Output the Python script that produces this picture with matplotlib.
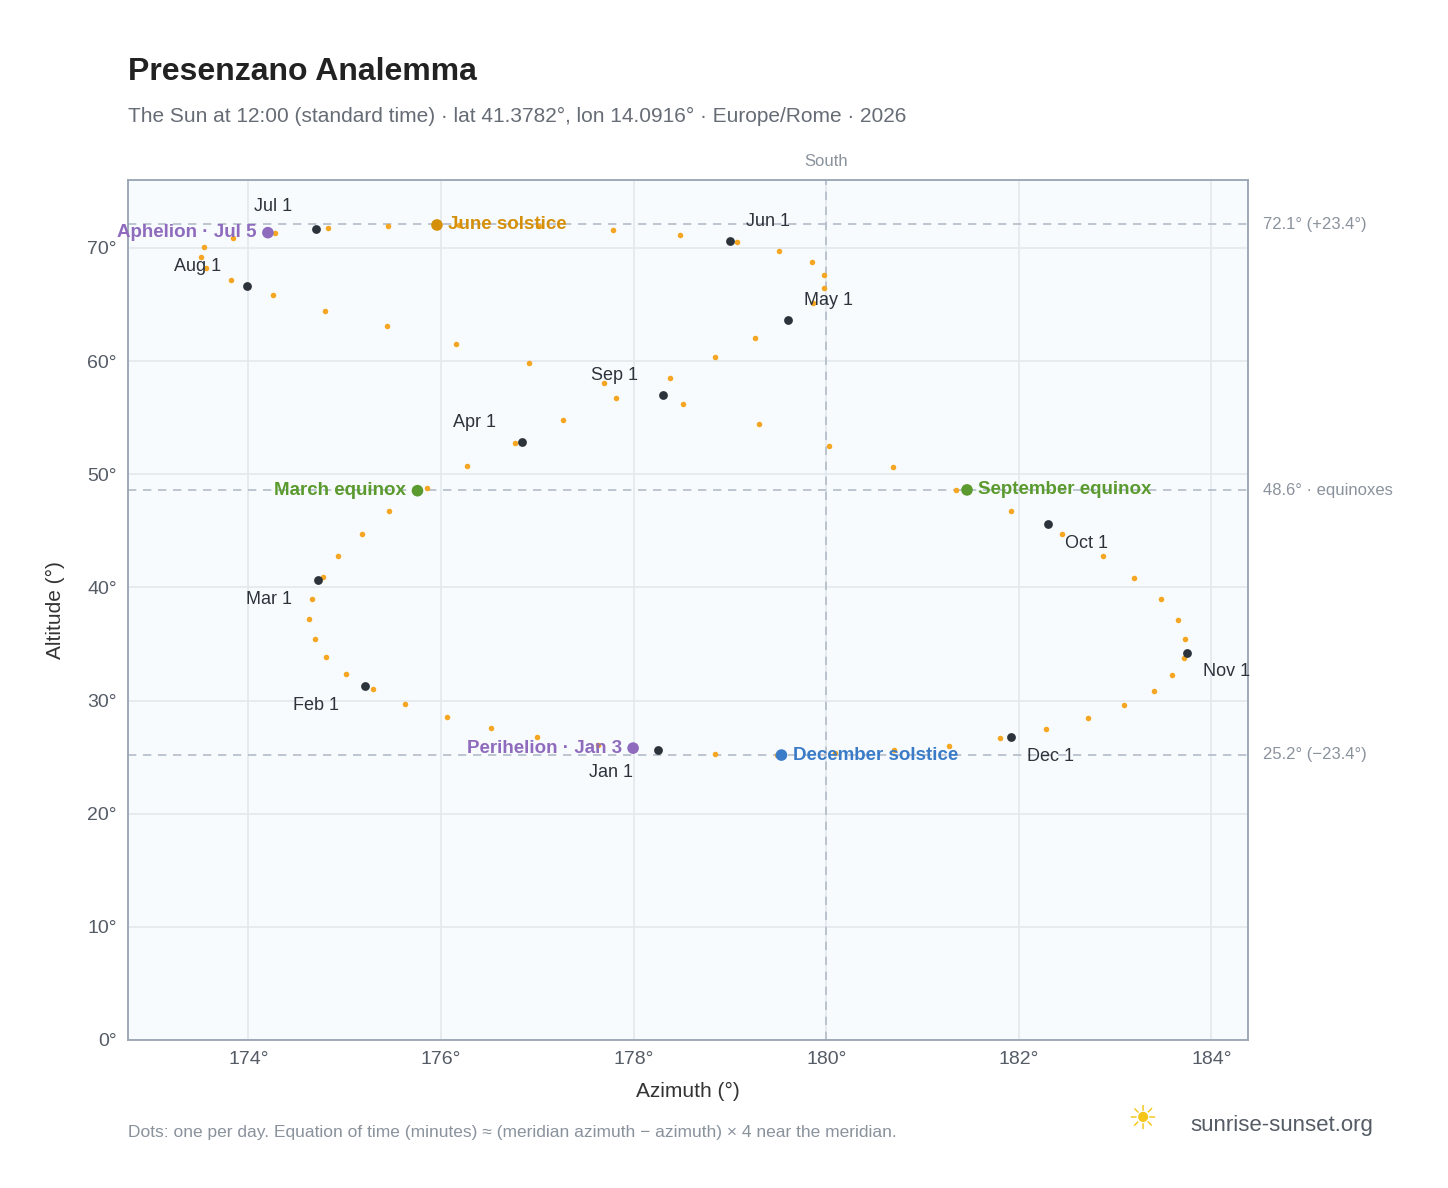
import numpy as np
import matplotlib
matplotlib.use("Agg")
import matplotlib.pyplot as plt
plt.rcParams['font.family'] = ['Liberation Sans', 'DejaVu Sans']

LAT = 41.3782
LON = 14.0916
# every 5 days from Jan 1: solar declination (deg) and equation of time (min)
decl = [-23.0,-22.5,-21.8,-21.0,-20.0,-18.8,-17.5,-16.1,-14.6,-13.0,-11.3,-9.5,-7.6,-5.7,-3.8,-1.8,0.2,2.2,4.2,6.2,
        8.1,9.9,11.7,13.4,15.0,16.5,17.8,19.0,20.1,21.1,21.9,22.5,23.0,23.3,23.4,23.4,23.2,22.8,22.3,21.6,
        20.7,19.7,18.6,17.3,15.9,14.5,12.9,11.2,9.5,7.6,5.8,3.9,2.0,0.0,-1.9,-3.9,-5.8,-7.7,-9.6,-11.4,
        -13.1,-14.8,-16.3,-17.7,-19.0,-20.1,-21.1,-21.9,-22.6,-23.0,-23.3,-23.4,-23.3]
eot = [-3.2,-5.6,-7.9,-9.6,-11.1,-12.4,-13.3,-13.9,-14.2,-14.1,-13.8,-13.2,-12.3,-11.3,-10.1,-8.8,-7.3,-5.8,-4.2,-2.7,
       -1.2,0.2,1.3,2.2,2.9,3.4,3.6,3.6,3.4,2.9,2.3,1.5,0.6,-0.4,-1.5,-2.5,-3.4,-4.3,-5.1,-5.8,
       -6.2,-6.5,-6.5,-6.2,-5.7,-4.9,-3.9,-2.7,-1.3,0.3,2.0,3.7,5.4,7.2,8.9,10.6,12.1,13.4,14.6,15.5,
       16.1,16.4,16.3,15.9,15.0,13.8,12.3,10.6,8.6,6.4,4.0,1.6,-0.9]

months = ["Jan 1","Feb 1","Mar 1","Apr 1","May 1","Jun 1","Jul 1","Aug 1","Sep 1","Oct 1","Nov 1","Dec 1"]
m_decl = [-23.0,-17.2,-7.8,4.3,15.0,22.0,23.1,18.1,8.4,-3.0,-14.3,-21.8]
m_eot = [-3.2,-13.5,-12.5,-4.0,2.9,2.2,-3.6,-6.4,-0.1,10.1,16.4,11.0]
m_off = [(-50,-16),(-52,-14),(-52,-14),(-50,14),(12,14),(12,14),(-45,16),(-52,14),(-52,14),(12,-14),(12,-14),(12,-14)]

events = ["March equinox","June solstice","September equinox","December solstice","Perihelion · Jan 3","Aphelion · Jul 5"]
e_decl = [0.0,23.44,0.0,-23.44,-22.8,22.8]
e_eot = [-7.6,-1.8,7.5,1.8,-4.2,-4.4]
e_col = ["#5a9a2e","#d4900a","#5a9a2e","#3a7cc7","#8e6bbd","#8e6bbd"]
e_side = ["left","right","right","right","left","left"]

def azalt(d, e):
    d = np.radians(np.array(d, float)); e = np.array(e, float)
    H = np.radians((e - (15 - LON) * 4) / 4.0)
    phi = np.radians(LAT)
    sa = np.sin(phi)*np.sin(d) + np.cos(phi)*np.cos(d)*np.cos(H)
    alt = np.degrees(np.arcsin(sa))
    az = np.degrees(np.arctan2(np.sin(H), np.cos(H)*np.sin(phi) - np.tan(d)*np.cos(phi))) + 180
    return az, alt

fig = plt.figure(figsize=(14.48, 11.88), dpi=100)
ax = fig.add_axes([128/1448, 1-1040/1188, 1120/1448, 860/1188])
ax.set_facecolor("#f8fbfe")
ax.set_xlim(172.75, 184.38); ax.set_ylim(0, 76)
ax.set_xticks([174,176,178,180,182,184]); ax.set_xticklabels([f"{v}°" for v in [174,176,178,180,182,184]])
ax.set_yticks(range(0,71,10)); ax.set_yticklabels([f"{v}°" for v in range(0,71,10)])
ax.grid(color="#e3e8ee", lw=1.2); ax.set_axisbelow(True)
for s in ax.spines.values(): s.set_color("#97a3b3"); s.set_lw(1.3)
ax.tick_params(colors="#555c66", labelsize=14, length=0, pad=8)

for y in [72.1, 48.6, 25.2]:
    ax.axhline(y, color="#b3bdc8", ls=(0,(5,4)), lw=1.2)
ax.axvline(180, color="#b3bdc8", ls=(0,(5,4)), lw=1.2)
ax.text(180, 77.0, "South", ha="center", va="bottom", color="#8a929c", fontsize=12)
for y, t in [(72.1,"72.1° (+23.4°)"),(48.6,"48.6° · equinoxes"),(25.2,"25.2° (−23.4°)")]:
    ax.annotate(t, (1.0, y), xycoords=("axes fraction", "data"), xytext=(11, 0),
                textcoords="offset points", va="center", color="#8a929c", fontsize=12)

az, alt = azalt(decl, eot)
ax.scatter(az, alt, s=16, color="#f5a623", zorder=3, lw=0)
maz, malt = azalt(m_decl, m_eot)
ax.scatter(maz, malt, s=40, color="#2d333b", zorder=4, lw=0)
for x, y, t, o in zip(maz, malt, months, m_off):
    ax.annotate(t, (x, y), xytext=o, textcoords="offset points", fontsize=13, color="#2d333b", va="center")
eaz, ealt = azalt(e_decl, e_eot)
ax.scatter(eaz, ealt, s=70, c=e_col, zorder=5, lw=0)
for x, y, t, c, sd in zip(eaz, ealt, events, e_col, e_side):
    dx = 8 if sd == "right" else -8
    ax.annotate(t, (x, y), xytext=(dx, 0), textcoords="offset points", fontsize=13.5, color=c,
                fontweight="bold", ha="left" if sd == "right" else "right", va="center")

ax.set_xlabel("Azimuth (°)", fontsize=15, color="#333", labelpad=10)
ax.set_ylabel("Altitude (°)", fontsize=15, color="#333", labelpad=16)
fig.text(128/1448, 1-72/1188, "Presenzano Analemma", fontsize=23, fontweight="bold", color="#222", va="center")
fig.text(128/1448, 1-116/1188, "The Sun at 12:00 (standard time) · lat 41.3782°, lon 14.0916° · Europe/Rome · 2026",
         fontsize=15, color="#666c75", va="center")
fig.text(128/1448, 1-1133/1188, "Dots: one per day. Equation of time (minutes) ≈ (meridian azimuth − azimuth) × 4 near the meridian.",
         fontsize=12.5, color="#8a929c", va="center")
fig.text(1190/1448, 1-1125/1188, "sunrise-sunset.org", fontsize=16, color="#555c66", va="center")
fig.text(1142/1448, 1-1120/1188, "☀", fontsize=24, color="#f5c518", ha="center", va="center",
         family="DejaVu Sans")
fig.savefig("out.png", dpi=100)
